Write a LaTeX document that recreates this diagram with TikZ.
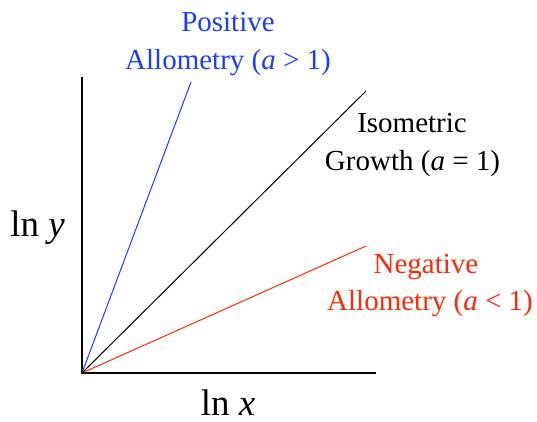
\documentclass[tikz,border=0pt]{standalone}
\usepackage{fontspec}
\setmainfont{Liberation Serif}
\definecolor{posblue}{RGB}{30,60,255}
\definecolor{negred}{RGB}{255,40,10}
\begin{document}
\begin{tikzpicture}[x=1pt,y=-1pt,
  lbl/.style={font=\fontsize{29}{35}\selectfont, inner sep=0pt, anchor=base},
  axlbl/.style={font=\fontsize{37}{44}\selectfont, inner sep=0pt, anchor=base},
  axis/.style={line width=2.8pt, line cap=rect},
  curve/.style={line width=1pt}]
\useasboundingbox (0,0) rectangle (537,422);
\coordinate (O) at (82,373);
\coordinate (Ytop) at (82,78);
\coordinate (Xend) at (375,373);
\coordinate (Bend) at (191,82);
\coordinate (Kend) at (366,91);
\coordinate (Rend) at (366,246);
\draw[curve, posblue] (O) -- (Bend);
\draw[curve, black] (O) -- (Kend);
\draw[curve, negred] (O) -- (Rend);
\draw[axis] (Ytop) -- (O) -- (Xend);
\node[lbl, text=posblue] (pos1) at (228,32) {Positive};
\node[lbl, text=posblue] (pos2) at (228,70) {Allometry (\textit{a} > 1)};
\node[lbl] (iso1) at (412,133) {Isometric};
\node[lbl] (iso2) at (412.5,170) {Growth (\textit{a} = 1)};
\node[lbl, text=negred] (neg1) at (426,273) {Negative};
\node[lbl, text=negred] (neg2) at (430,310) {Allometry (\textit{a} < 1)};
\node[axlbl] (ly) at (37.5,236) {ln \textit{y}};
\node[axlbl] (lx) at (228,415) {ln \textit{x}};
\end{tikzpicture}
\end{document}
